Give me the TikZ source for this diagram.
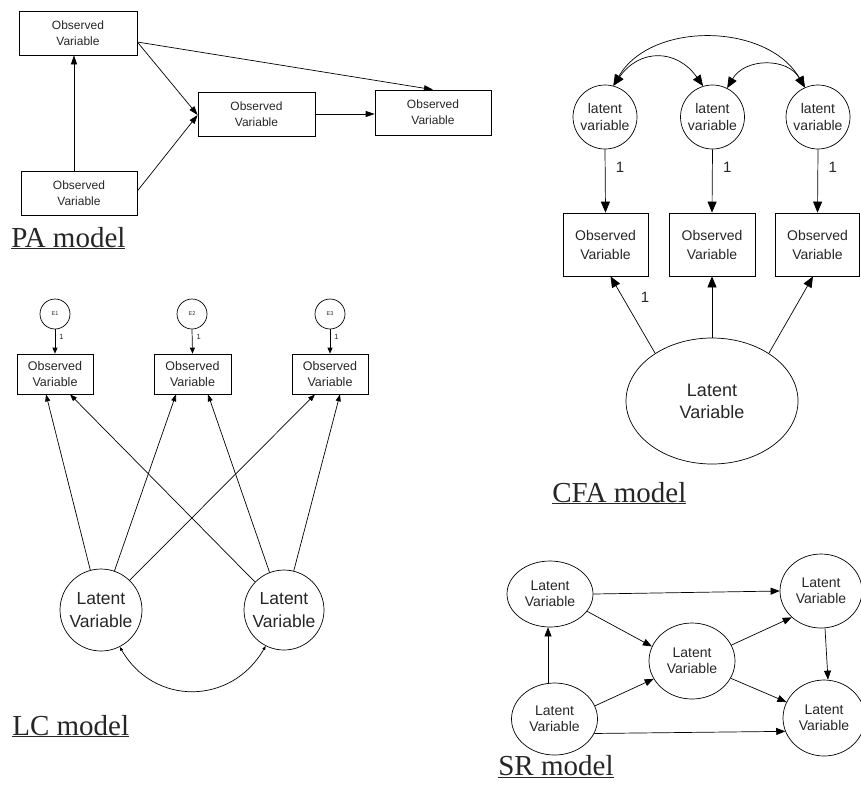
\documentclass[tikz,border=0pt]{standalone}
\usepackage{fontspec}
\setmainfont{Liberation Sans}
\newfontfamily\serifl{Liberation Serif}
\usetikzlibrary{arrows.meta,shapes.geometric}
\definecolor{txt}{HTML}{262626}
\tikzset{
  obs/.style={draw, rectangle, inner sep=0pt, align=center, text=txt},
  lat/.style={draw, circle, inner sep=0pt, align=center, text=txt},
  latell/.style={draw, ellipse, inner sep=0pt, align=center, text=txt},
  modellabel/.style={anchor=base west, inner sep=0pt, text=txt, font=\serifl\fontsize{29}{32}\selectfont},
  paarrow/.style={-{Triangle[length=9pt,width=6pt]}},
  cfaarrow/.style={-{Triangle[length=11pt,width=9pt]}},
  cfadbl/.style={{Triangle[length=11pt,width=9pt]}-{Triangle[length=11pt,width=9pt]}},
  lcarrow/.style={-{Triangle[length=7pt,width=5pt]}},
  lcdbl/.style={{Triangle[length=4pt,width=3pt]}-{Triangle[length=4pt,width=3pt]}},
  srarrow/.style={-{Triangle[length=9pt,width=7pt]}},
  onelabel/.style={text=txt, inner sep=0pt}
}
\begin{document}
\begin{tikzpicture}[x=1pt,y=1pt,line width=0.7pt]
\useasboundingbox (0,0) rectangle (861,-796);

% ---------------- PA model ----------------
\begin{scope}[every node/.append style={font=\fontsize{12}{16}\selectfont}]
\node[obs, minimum width=118pt, minimum height=44pt] (pa1) at (78,-33) {Observed\\Variable};
\node[obs, minimum width=116pt, minimum height=44pt] (pa2) at (79,-193) {Observed\\Variable};
\node[obs, minimum width=117pt, minimum height=44pt] (pa3) at (256.5,-114) {Observed\\Variable};
\node[obs, minimum width=116pt, minimum height=45pt] (pa4) at (433,-112.5) {Observed\\Variable};
\end{scope}
\draw[paarrow] ([xshift=-5pt]pa2.north) -- ([xshift=-4pt]pa1.south);
\draw[paarrow] ([yshift=-9pt]pa1.east) -- ([yshift=-1pt]pa3.west);
\draw[paarrow] ([yshift=2pt]pa2.east) -- ([yshift=-1pt]pa3.west);
\draw[paarrow] ([yshift=-9pt]pa1.east) -- (pa4.north);
\draw[paarrow] (pa3.east) -- (pa3.east -| pa4.west);
\node[modellabel] (palabel) at (11,-247) {\underline{PA model}};

% ---------------- CFA model ----------------
\begin{scope}[every node/.append style={font=\fontsize{14}{17}\selectfont}]
\node[lat, minimum size=64pt] (lv1) at (605,-117) {latent\\variable};
\node[lat, minimum size=64pt] (lv2) at (712.5,-117) {latent\\variable};
\node[lat, minimum size=64pt] (lv3) at (818,-117) {latent\\variable};
\end{scope}
\begin{scope}[every node/.append style={font=\fontsize{14}{19}\selectfont}]
\node[obs, minimum width=85pt, minimum height=63pt] (ob1) at (605.5,-244.5) {Observed\\Variable};
\node[obs, minimum width=86pt, minimum height=63pt] (ob2) at (712,-244.5) {Observed\\Variable};
\node[obs, minimum width=84pt, minimum height=63pt] (ob3) at (817.5,-244.5) {Observed\\Variable};
\end{scope}
\node[latell, minimum width=172pt, minimum height=126pt, font=\fontsize{18}{22}\selectfont] (ell) at (712,-401) {Latent\\Variable};
\foreach \i in {1,2,3}{
  \draw[cfaarrow] (lv\i.south) -- (ob\i.north) node[onelabel, pos=0.29, xshift=15pt, font=\fontsize{15}{18}\selectfont] {1};
}
\draw[cfaarrow] (ell.140) -- ([xshift=5pt]ob1.south);
\node[onelabel, font=\fontsize{15}{18}\selectfont] (one4) at (645,-297) {1};
\draw[cfaarrow] (ell.north) -- (ob2.south);
\draw[cfaarrow] (ell.40) -- ([xshift=-4.5pt]ob3.south);
\draw[cfadbl] (lv1.75) to[out=55,in=125,looseness=1.3] (lv2.107);
\draw[cfadbl] (lv2.63) to[out=60,in=120,looseness=1.15] (lv3.114);
\draw[cfadbl] (lv1.75) to[out=60,in=120,looseness=1.0] (lv3.114);
\node[modellabel] (cfalabel) at (552,-502) {\underline{CFA model}};

% ---------------- LC model ----------------
\begin{scope}[every node/.append style={font=\fontsize{5.5}{6}\selectfont}]
\node[lat, minimum size=30pt] (e1) at (55,-314) {E1};
\node[lat, minimum size=30pt] (e2) at (192,-314) {E2};
\node[lat, minimum size=30pt] (e3) at (330,-314) {E3};
\end{scope}
\begin{scope}[every node/.append style={font=\fontsize{12.5}{16}\selectfont}]
\node[obs, minimum width=76pt, minimum height=40pt] (b1) at (55,-374) {Observed\\Variable};
\node[obs, minimum width=77pt, minimum height=40pt] (b2) at (192.5,-374) {Observed\\Variable};
\node[obs, minimum width=76pt, minimum height=40pt] (b3) at (330,-374) {Observed\\Variable};
\end{scope}
\foreach \i in {1,2,3}{
  \draw[-{Triangle[length=6pt,width=5pt]}] (e\i.south) -- (b\i.north) node[onelabel, pos=0.3, xshift=6.5pt, font=\fontsize{7.5}{8}\selectfont] {1};
}
\begin{scope}[every node/.append style={font=\fontsize{17.5}{22.5}\selectfont}]
\node[lat, minimum size=82pt] (la1) at (101,-610) {Latent\\Variable};
\node[lat, minimum size=80pt] (la2) at (284,-610) {Latent\\Variable};
\end{scope}
\draw[lcarrow] (la1.105) -- ([xshift=-9pt]b1.south);
\draw[lcarrow] (la1.71) -- ([xshift=-16.5pt]b2.south);
\draw[lcarrow] (la1.46) -- ([xshift=-15pt]b3.south);
\draw[lcarrow] (la2.136) -- ([xshift=15pt]b1.south);
\draw[lcarrow] (la2.111) -- ([xshift=15.5pt]b2.south);
\draw[lcarrow] (la2.76) -- ([xshift=10pt]b3.south);
\draw[lcdbl] (la1.297) to[out=-60,in=240,looseness=1.2] (la2.243);
\node[modellabel] (lclabel) at (12,-735) {\underline{LC model}};

% ---------------- SR model ----------------
\begin{scope}[every node/.append style={font=\fontsize{14}{16}\selectfont}]
\node[latell, minimum width=86pt, minimum height=66pt] (s1) at (550,-594) {Latent\\Variable};
\node[latell, minimum width=86pt, minimum height=72pt] (s2) at (554.5,-719) {Latent\\Variable};
\node[latell, minimum width=86pt, minimum height=76pt] (s3) at (692,-661) {Latent\\Variable};
\node[latell, minimum width=82pt, minimum height=74pt] (s4) at (821,-591) {Latent\\Variable};
\node[latell, minimum width=82pt, minimum height=76pt] (s5) at (824,-718) {Latent\\Variable};
\end{scope}
\draw[srarrow] ([xshift=-6.5pt]s2.north) -- ([xshift=-2pt]s1.south);
\draw[srarrow] (s1.east) -- (s4.west);
\draw[srarrow] (s1.-25) -- (s3.160);
\draw[srarrow] (s2.18) -- (s3.205);
\draw[srarrow] (s2.-20) -- (s5.199);
\draw[srarrow] (s3.22) -- (s4.222);
\draw[srarrow] (s3.-24) -- (s5.157);
\draw[srarrow] ([xshift=4pt]s4.south) -- ([xshift=4pt]s5.north);
\node[modellabel] (srlabel) at (498,-775) {\underline{SR model}};
\end{tikzpicture}
\end{document}
